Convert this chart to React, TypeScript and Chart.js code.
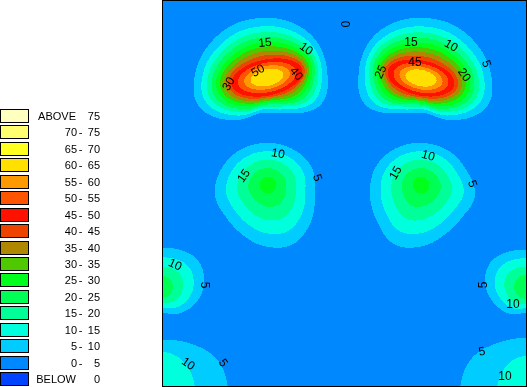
import React, { useEffect, useRef } from 'react';
import { Chart, registerables } from 'chart.js';

Chart.register(...registerables);

// ---------- legend ----------
const legendLow = ['ABOVE', '70', '65', '60', '55', '50', '45', '40', '35', '30', '25', '20', '15', '10', '5', '0', 'BELOW'];
const legendHigh = ['75', '75', '70', '65', '60', '55', '50', '45', '40', '35', '30', '25', '20', '15', '10', '5', '0'];
const bandColors = ['#FFFFC0', '#FFFF70', '#FFFF20', '#FFE000', '#FF9900', '#FF5500', '#FF1100', '#EE4400', '#B08800', '#50C800', '#00FF1A', '#00FF55', '#00FF99', '#00FFDD', '#00CCFF', '#0088FF', '#0044FF'];

// ---------- field (data coords: x 0..365 left->right, y 0..387 top->down) ----------
// each hill: an inner contour (ellipse, at innerLevel) nested in the 5-contour (radii every 30 deg, 0 = east, 90 = south)
const peakValue = [64, 63.5, 27, 27, 22, 22, 13, 13];
const innerLevel = [45, 45, 25, 25, 20, 20, 10, 10];
const coreSlope = [28, 28, 2, 2, 2, 2, 3, 3];
const falloff = [1.3, 1.3, 1, 1, 1, 1, 1, 1];
const innerCX = [105, 259, 106, 259, 0, 364, 0, 365];
const innerCY = [77.5, 78, 185, 185, 287, 287, 392, 392];
const innerA = [36, 34, 8.5, 8.5, 11, 12, 33, 30];
const innerB = [18, 17.5, 8.5, 8.5, 11, 12, 40, 36];
const innerRot = [-12, 12, 0, 0, 0, 0, 0, 0];
const outerCX = [99, 263, 102, 261, 0, 364, 0, 365];
const outerCY = [70, 70, 195, 195, 282, 283, 392, 392];
const outer1 = [66, 69, 50, 43, 58, 72, 65, 57, 53, 52, 56, 62];
const outer2 = [65, 72, 58, 43, 50, 69, 66, 62, 56, 52, 53, 57];
const outer3 = [51, 54, 57, 51, 45, 44, 49, 50, 51, 52, 54, 55];
const outer4 = [52, 45, 45, 51, 57, 53, 53, 55, 54, 52, 51, 50];
const outer5 = [42, 40, 36, 31, 36, 40, 42, 42, 38, 34, 37, 42];
const outer6 = [41, 38, 35, 30, 35, 38, 41, 41, 36, 33, 36, 41];
const outer7 = [66, 66, 66, 66, 66, 60, 54, 52, 52, 52, 56, 64];
const outer8 = [60, 62, 64, 66, 67, 67, 67, 65, 57, 54, 56, 58];
const outerRadii = [outer1, outer2, outer3, outer4, outer5, outer6, outer7, outer8];
const backgroundValue = 2.5;

// ---------- contour labels ----------
const labelText = ['15', '10', '50', '40', '30', '15', '10', '5', '45', '25', '20', '10', '15', '5', '10', '15', '5', '10', '5', '5', '10', '10', '5', '5', '10', '0'];
const labelX = [103, 144, 96, 134, 67, 249, 289, 324, 253, 219, 302, 116, 82, 155, 266, 234, 310, 13, 42, 322, 351, 26, 61, 320, 343, 182];
const labelY = [43, 49, 71, 74, 84, 43, 46, 64, 63, 72, 75, 154, 176, 178, 156, 173, 184, 265, 285, 285, 305, 364, 363, 352, 377, 24];
const labelAngle = [-5, 35, -30, 50, -60, 0, 30, 70, 0, -65, 55, 10, -55, 70, 15, -60, 70, 25, 90, -90, 0, 35, 55, -10, 0, 90];

function periodic(arr: number[], theta: number): number {
  const n = arr.length;
  let t = (theta / (2 * Math.PI)) * n;
  t = ((t % n) + n) % n;
  const i = Math.floor(t);
  const u = t - i;
  const p0 = arr[(i - 1 + n) % n], p1 = arr[i], p2 = arr[(i + 1) % n], p3 = arr[(i + 2) % n];
  return 0.5 * (2 * p1 + (-p0 + p2) * u + (2 * p0 - 5 * p1 + 4 * p2 - p3) * u * u + (-p0 + 3 * p1 - 3 * p2 + p3) * u * u * u);
}

function ellipseR(a: number, b: number, rotDeg: number, theta: number): number {
  const t = theta - (rotDeg * Math.PI) / 180;
  const c = b * Math.cos(t), s = a * Math.sin(t);
  return (a * b) / Math.sqrt(c * c + s * s);
}

// signed distance of (x,y) outside the nested contour with parameter s (-1 = peak, 0 = inner, 1 = 5-contour)
function gap(b: number, x: number, y: number, s: number): number {
  const t = Math.max(0, s);
  const cx = innerCX[b] + (outerCX[b] - innerCX[b]) * t;
  const cy = innerCY[b] + (outerCY[b] - innerCY[b]) * t;
  const dx = x - cx, dy = y - cy;
  const d = Math.sqrt(dx * dx + dy * dy);
  const th = Math.atan2(dy, dx);
  const rin = ellipseR(innerA[b], innerB[b], innerRot[b], th);
  if (s < 0) return d - rin * (1 + s);
  const rout = periodic(outerRadii[b], th);
  return d - (rin + (rout - rin) * s);
}

const maxOuter = outerRadii.map((r) => Math.max(...r) + 4);

function hillValue(b: number, x: number, y: number): number {
  const dx = x - outerCX[b], dy = y - outerCY[b];
  if (dx * dx + dy * dy > maxOuter[b] * maxOuter[b]) return -1;
  if (gap(b, x, y, 1) > 0) return -1;
  let lo = -1, hi = 1;
  for (let k = 0; k < 16; k++) {
    const m = (lo + hi) / 2;
    if (gap(b, x, y, m) > 0) lo = m;
    else hi = m;
  }
  const s = (lo + hi) / 2;
  const vin = innerLevel[b];
  if (s <= 0) return Math.min(peakValue[b], vin + coreSlope[b] * -s);
  return 5 + (vin - 5) * Math.pow(1 - s, falloff[b]);
}

function fieldValue(x: number, y: number): number {
  let v = backgroundValue;
  for (let b = 0; b < peakValue.length; b++) {
    const f = hillValue(b, x, y);
    if (f > v) v = f;
  }
  return v;
}

function bandIndex(v: number): number {
  if (v >= 75) return 0;
  if (v < 0) return 16;
  return 15 - Math.floor(v / 5);
}

function hexRgb(h: string): number[] {
  return [parseInt(h.slice(1, 3), 16), parseInt(h.slice(3, 5), 16), parseInt(h.slice(5, 7), 16)];
}

const contourPlugin = {
  id: 'contourFill',
  beforeDatasetsDraw(chart: any) {
    const { ctx, chartArea: a, scales } = chart;
    const xs = scales.x, ys = scales.y;
    const w = Math.round(a.right - a.left), h = Math.round(a.bottom - a.top);
    const img = ctx.createImageData(w, h);
    const rgb = bandColors.map(hexRgb);
    const xv: number[] = [];
    for (let i = 0; i < w; i++) xv.push(xs.getValueForPixel(a.left + i + 0.5));
    for (let j = 0; j < h; j++) {
      const yv = ys.getValueForPixel(a.top + j + 0.5);
      for (let i = 0; i < w; i++) {
        const c = rgb[bandIndex(fieldValue(xv[i], yv))];
        const k = (j * w + i) * 4;
        img.data[k] = c[0];
        img.data[k + 1] = c[1];
        img.data[k + 2] = c[2];
        img.data[k + 3] = 255;
      }
    }
    ctx.putImageData(img, a.left, a.top);
  },
  afterDraw(chart: any) {
    const { ctx, chartArea: a, scales } = chart;
    ctx.save();
    ctx.fillStyle = '#000';
    ctx.font = '12px "Liberation Sans", Arial, sans-serif';
    ctx.textAlign = 'center';
    ctx.textBaseline = 'middle';
    for (let i = 0; i < labelText.length; i++) {
      const px = scales.x.getPixelForValue(labelX[i]);
      const py = scales.y.getPixelForValue(labelY[i]);
      ctx.save();
      ctx.translate(px, py);
      ctx.rotate((labelAngle[i] * Math.PI) / 180);
      ctx.fillText(labelText[i], 0, 0);
      ctx.restore();
    }
    ctx.strokeStyle = '#000';
    ctx.lineWidth = 1;
    ctx.strokeRect(a.left + 0.5, a.top + 0.5, a.right - a.left - 1, a.bottom - a.top - 1);
    ctx.font = '11px "Liberation Sans", Arial, sans-serif';
    ctx.textBaseline = 'middle';
    for (let i = 0; i < bandColors.length; i++) {
      const top = Math.round(109 + i * 16.44);
      ctx.fillStyle = bandColors[i];
      ctx.fillRect(0, top, 29, 14);
      ctx.strokeRect(0.5, top + 0.5, 28, 13);
      ctx.fillStyle = '#000';
      const cy = top + 7.5;
      const word = legendLow[i] === 'ABOVE' || legendLow[i] === 'BELOW';
      ctx.textAlign = 'right';
      ctx.fillText(legendLow[i], word ? 76 : 77, cy);
      if (!word) {
        ctx.textAlign = 'center';
        ctx.fillText('-', 80.5, cy);
      }
      ctx.textAlign = 'right';
      ctx.fillText(legendHigh[i], 100, cy);
    }
    ctx.restore();
  },
};

export default function App() {
  const ref = useRef<HTMLCanvasElement | null>(null);
  useEffect(() => {
    if (!ref.current) return;
    const chart = new Chart(ref.current, {
      type: 'scatter',
      data: {
        datasets: [
          {
            data: innerCX.map((x, i) => ({ x, y: innerCY[i] })),
            pointRadius: 0,
          },
        ],
      },
      options: {
        animation: false,
        responsive: false,
        devicePixelRatio: 1,
        layout: { padding: { left: 162, top: 0, right: 0, bottom: 0 } },
        scales: {
          x: { type: 'linear', min: 0, max: 365, display: false },
          y: { type: 'linear', min: 0, max: 387, reverse: true, display: false },
        },
        plugins: { legend: { display: false }, tooltip: { enabled: false } },
      },
      plugins: [contourPlugin],
    } as any);
    return () => chart.destroy();
  }, []);
  return (
    <div style={{ position: 'fixed', left: 0, top: 0, width: 527, height: 387, background: '#fff' }}>
      <canvas ref={ref} width={527} height={387} style={{ display: 'block' }} />
    </div>
  );
}
